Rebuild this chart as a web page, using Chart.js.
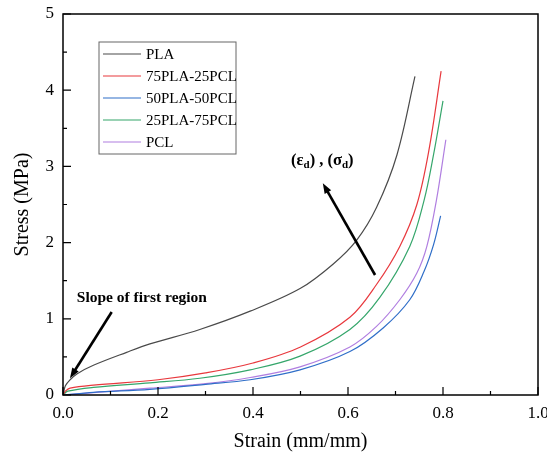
<!DOCTYPE html>
<html>
<head>
<meta charset="utf-8">
<script src="https://cdn.jsdelivr.net/npm/chart.js@4.4.1/dist/chart.umd.min.js"></script>
<style>
    html, body { margin: 0; padding: 0; background: #fff; }
    #wrap { width: 547px; height: 452px; }
</style>
</head>
<body>
<div id="wrap"><canvas id="stressStrainChart"></canvas></div>
<script>
// Stress-strain curves of PLA/PCL blends.

const seriesLabels = ['PLA', '75PLA-25PCL', '50PLA-50PCL', '25PLA-75PCL', 'PCL'];
const seriesColors = ['#4a4a4a', '#e8383d', '#2f6ec8', '#35a66b', '#b07ee0'];

const plaStrain = [0, 0.005, 0.015, 0.03, 0.064, 0.134, 0.183, 0.288, 0.394, 0.5, 0.569, 0.618, 0.66, 0.703, 0.741];
const plaStress = [0, 0.12, 0.2, 0.28, 0.39, 0.56, 0.67, 0.86, 1.1, 1.4, 1.72, 2.03, 2.46, 3.15, 4.18];

const pla75Strain = [0, 0.005, 0.015, 0.064, 0.2, 0.3, 0.4, 0.5, 0.604, 0.66, 0.709, 0.745, 0.77, 0.796];
const pla75Stress = [0, 0.05, 0.09, 0.13, 0.2, 0.29, 0.42, 0.63, 1.02, 1.45, 1.95, 2.5, 3.2, 4.25];

const pla50Strain = [0, 0.064, 0.183, 0.3, 0.394, 0.499, 0.604, 0.674, 0.73, 0.76, 0.78, 0.795];
const pla50Stress = [0, 0.035, 0.075, 0.14, 0.2, 0.33, 0.57, 0.88, 1.25, 1.62, 1.97, 2.35];

const pla25Strain = [0, 0.01, 0.064, 0.183, 0.288, 0.394, 0.499, 0.604, 0.667, 0.73, 0.76, 0.78, 0.8];
const pla25Stress = [0, 0.05, 0.1, 0.16, 0.22, 0.33, 0.51, 0.86, 1.28, 1.95, 2.55, 3.15, 3.86];

const pclStrain = [0, 0.064, 0.183, 0.3, 0.394, 0.499, 0.604, 0.66, 0.709, 0.745, 0.766, 0.786, 0.806];
const pclStress = [0, 0.03, 0.09, 0.15, 0.23, 0.37, 0.63, 0.9, 1.25, 1.6, 1.95, 2.55, 3.35];

const strainTicks = [0, 0.2, 0.4, 0.6, 0.8, 1.0];
const stressTicks = [0, 1, 2, 3, 4, 5];

const serif = '"Liberation Serif", "Times New Roman", serif';

const pairs = (xs, ys) => xs.map((x, i) => ({ x, y: ys[i] }));
const allSeries = [
    pairs(plaStrain, plaStress),
    pairs(pla75Strain, pla75Stress),
    pairs(pla50Strain, pla50Stress),
    pairs(pla25Strain, pla25Stress),
    pairs(pclStrain, pclStress)
];

// Inward major/minor ticks plus the closed frame, like the original plot.
const framePlugin = {
    id: 'frame',
    afterDraw(chart) {
        const { ctx, chartArea: a, scales: { x, y } } = chart;
        ctx.save();
        ctx.strokeStyle = '#000';
        ctx.lineWidth = 1.5;
        ctx.strokeRect(a.left, a.top, a.right - a.left, a.bottom - a.top);
        ctx.lineWidth = 1.2;
        ctx.beginPath();
        for (let v = 0; v <= 1.0001; v += 0.1) {
            const px = x.getPixelForValue(v);
            const len = Math.round(v * 10) % 2 === 0 ? 8 : 4;
            ctx.moveTo(px, a.bottom); ctx.lineTo(px, a.bottom - len);
        }
        for (let v = 0; v <= 5.0001; v += 0.5) {
            const py = y.getPixelForValue(v);
            const len = Math.round(v * 2) % 2 === 0 ? 8 : 4;
            ctx.moveTo(a.left, py); ctx.lineTo(a.left + len, py);
        }
        ctx.stroke();
        ctx.restore();
    }
};

// Boxed legend in the upper left of the plot area.
const boxLegendPlugin = {
    id: 'boxLegend',
    afterDraw(chart) {
        const { ctx, chartArea: a } = chart;
        const left = a.left + 36, top = a.top + 28, w = 137, rowH = 22;
        ctx.save();
        ctx.strokeStyle = '#666';
        ctx.lineWidth = 1;
        ctx.strokeRect(left, top, w, rowH * seriesLabels.length + 2);
        ctx.font = '15px ' + serif;
        ctx.textBaseline = 'middle';
        ctx.fillStyle = '#000';
        seriesLabels.forEach((label, i) => {
            const cy = top + 12 + i * rowH;
            ctx.strokeStyle = seriesColors[i];
            ctx.lineWidth = 1.2;
            ctx.beginPath(); ctx.moveTo(left + 4, cy); ctx.lineTo(left + 42, cy); ctx.stroke();
            ctx.fillText(label, left + 47, cy + 1);
        });
        ctx.restore();
    }
};

function arrow(ctx, x0, y0, x1, y1) {
    const ang = Math.atan2(y1 - y0, x1 - x0);
    const head = 11;
    ctx.beginPath();
    ctx.moveTo(x0, y0);
    ctx.lineTo(x1 - Math.cos(ang) * head * 0.8, y1 - Math.sin(ang) * head * 0.8);
    ctx.stroke();
    ctx.beginPath();
    ctx.moveTo(x1, y1);
    ctx.lineTo(x1 - head * Math.cos(ang - 0.35), y1 - head * Math.sin(ang - 0.35));
    ctx.lineTo(x1 - head * Math.cos(ang + 0.35), y1 - head * Math.sin(ang + 0.35));
    ctx.closePath();
    ctx.fill();
}

// Arrows and bold notes, placed in data coordinates.
const notesPlugin = {
    id: 'notes',
    afterDraw(chart) {
        const { ctx, scales: { x, y } } = chart;
        const X = v => x.getPixelForValue(v), Y = v => y.getPixelForValue(v);
        ctx.save();
        ctx.strokeStyle = '#000';
        ctx.fillStyle = '#000';
        ctx.lineWidth = 2.6;
        arrow(ctx, X(0.1025), Y(1.09), X(0.0147), Y(0.22));
        arrow(ctx, X(0.657), Y(1.575), X(0.547), Y(2.78));
        ctx.font = 'bold 15.5px ' + serif;
        ctx.textBaseline = 'middle';
        ctx.fillText('Slope of first region', X(0.029), Y(1.27));
        // (εd) , (σd) with subscripts
        let px = X(0.48);
        const py = Y(3.07);
        const put = (t, font, dy) => { ctx.font = font; ctx.fillText(t, px, py + dy); px += ctx.measureText(t).width; };
        const big = 'bold 16.5px ' + serif, sub = 'bold 11px ' + serif;
        put('(ε', big, 0); put('d', sub, 4); put(') , (σ', big, 0); put('d', sub, 4); put(')', big, 0);
        ctx.restore();
    }
};

new Chart(document.getElementById('stressStrainChart'), {
    type: 'line',
    data: {
        datasets: allSeries.map((data, i) => ({
            label: seriesLabels[i],
            data,
            borderColor: seriesColors[i],
            borderWidth: 1.2,
            pointRadius: 0,
            fill: false,
            tension: 0.35
        }))
    },
    options: {
        responsive: true,
        maintainAspectRatio: false,
        animation: false,
        layout: { padding: { top: 14, right: 9, left: 0, bottom: 0 } },
        plugins: { legend: { display: false }, tooltip: { enabled: false } },
        scales: {
            x: {
                type: 'linear',
                min: 0,
                max: 1,
                afterBuildTicks: s => { s.ticks = strainTicks.map(v => ({ value: v })); },
                afterFit: s => { s.height = 57; s.paddingLeft = 0; s.paddingRight = 0; },
                grid: { display: false },
                border: { display: false },
                ticks: { color: '#000', font: { family: serif, size: 17 }, padding: 0, callback: v => v.toFixed(1) },
                title: { display: true, text: 'Strain (mm/mm)', color: '#000', font: { family: serif, size: 20, lineHeight: 1.0 }, padding: { top: 0, bottom: 0 } }
            },
            y: {
                type: 'linear',
                min: 0,
                max: 5,
                afterBuildTicks: s => { s.ticks = stressTicks.map(v => ({ value: v })); },
                afterFit: s => { s.width = 63; s.paddingTop = 0; s.paddingBottom = 0; },
                grid: { display: false },
                border: { display: false },
                ticks: { color: '#000', font: { family: serif, size: 17 }, padding: 1 },
                title: { display: true, text: 'Stress (MPa)', color: '#000', font: { family: serif, size: 20, lineHeight: 1.0 }, padding: { top: 13, bottom: 0 } }
            }
        }
    },
    plugins: [framePlugin, boxLegendPlugin, notesPlugin]
});
</script>
</body>
</html>
